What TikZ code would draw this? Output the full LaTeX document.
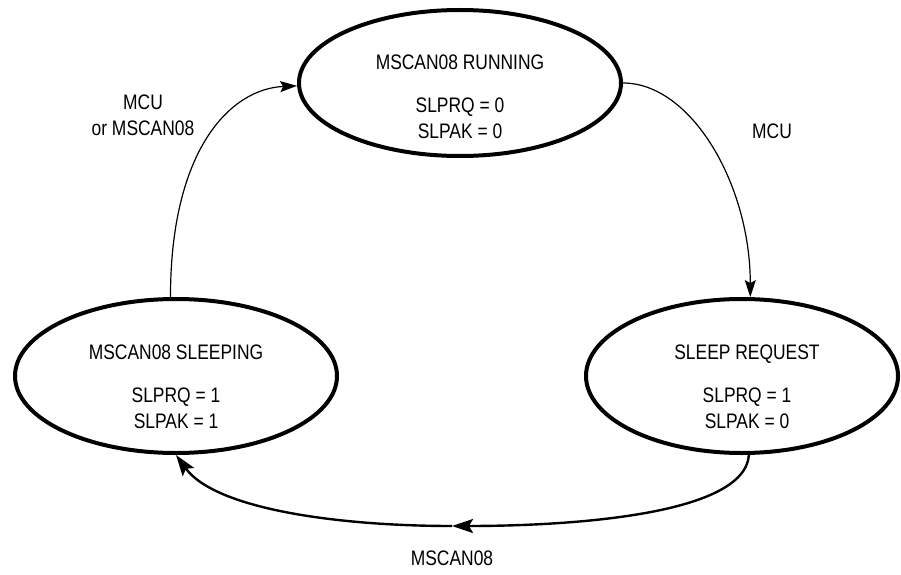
\documentclass[tikz,border=0pt]{standalone}
\usepackage{fontspec}
\setmainfont{Liberation Sans}[FakeStretch=0.83]
\usetikzlibrary{arrows.meta,shapes.geometric}
\tikzset{
  statebox/.style={draw,ellipse,line width=4pt,minimum width=322pt,minimum height=154pt,inner sep=0pt},
  statetext/.style={align=center,font=\fontsize{21}{26}\selectfont},
  lbl/.style={align=center,font=\fontsize{21}{26}\selectfont},
  thinarrow/.style={line width=1.2pt,-{Stealth[length=17pt,width=11pt,inset=3pt]}},
  thickarrow/.style={line width=2.4pt,-{Stealth[length=21pt,width=14pt,inset=4pt]}}
}
\begin{document}
\begin{tikzpicture}[x=1pt,y=1pt]
\useasboundingbox (0,0) rectangle (901,574);
% states
\node[statebox,minimum height=146pt] (run) at (460,491) {};
\node[statebox] (sleep) at (176,198) {};
\node[statebox,minimum width=312pt] (req) at (742,198) {};
\node[statetext] (runtxt) at ([yshift=-14]run.center) {MSCAN08 RUNNING\\[17pt]SLPRQ = 0\\SLPAK = 0};
\node[statetext] (sleeptxt) at ([yshift=-11]sleep.center) {MSCAN08 SLEEPING\\[17pt]SLPRQ = 1\\SLPAK = 1};
\node[statetext] (reqtxt) at ([xshift=5,yshift=-11]req.center) {SLEEP REQUEST\\[17pt]SLPRQ = 1\\SLPAK = 0};
% transitions
\draw[thinarrow] (sleep.94) .. controls +(0,147) and +(-67,-3) .. (run.181);
\draw[thinarrow] (run.0) .. controls +(68,0) and +(0,113) .. (req.84);
\coordinate (low) at (452,48);
\draw[thickarrow] (req.275) .. controls +(-4,-62) and +(108,0) .. (low);
\draw[thickarrow] (low) .. controls +(-110,0) and +(40,-55) .. (sleep.270);
% labels
\node[lbl] (lblwake) at (143,459) {MCU\\or MSCAN08};
\node[lbl] (lblmcu) at (772,443) {MCU};
\node[lbl] (lblack) at (452,16) {MSCAN08};
\end{tikzpicture}
\end{document}
